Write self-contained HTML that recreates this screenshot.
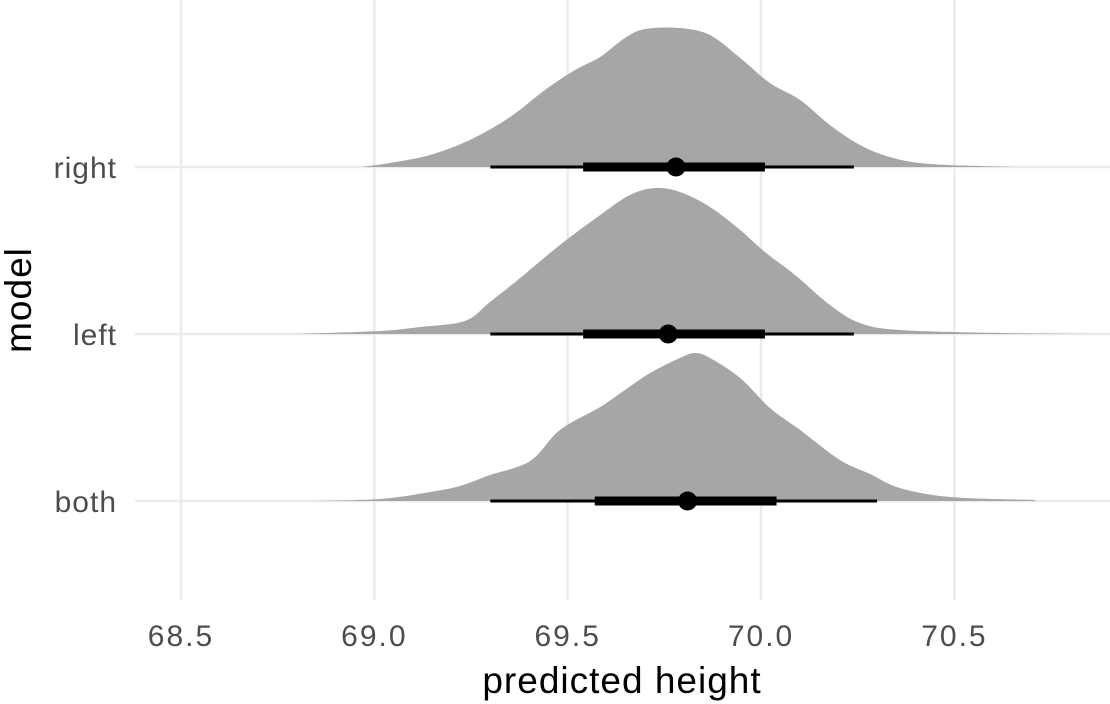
<!DOCTYPE html>
<html><head><meta charset="utf-8"><style>
html,body{margin:0;padding:0;background:#fff;}
svg{display:block;font-family:"Liberation Sans",sans-serif;}
</style></head><body>
<svg id="chart" width="1110" height="704">
<g id="grid"></g>
<g id="marks"></g>
<g id="axes"></g>
<text x="622" y="693" font-size="37" letter-spacing="1" text-anchor="middle" fill="#000">predicted height</text>
<text transform="translate(31,300) rotate(-90)" font-size="37" letter-spacing="1" text-anchor="middle" fill="#000">model</text>
</svg>
<script>
const categories = ["both","left","right"];
const xTicks = [68.5,69.0,69.5,70.0,70.5];
const xTickLabels = ["68.5","69.0","69.5","70.0","70.5"];
const rightX = [68.968,69.04,69.144,69.247,69.351,69.441,69.519,69.584,69.648,69.70,69.790,69.868,69.946,70.023,70.101,70.178,70.256,70.333,70.437,70.657];
const rightD = [0,4,12,27,50,77,97,110,129,138,139,132,109,84,67,42,22,10,3,0];
const leftX = [68.795,69.015,69.118,69.234,69.299,69.377,69.480,69.584,69.661,69.726,69.790,69.868,69.946,70.010,70.088,70.178,70.256,70.359,70.618,70.851];
const leftD = [0,3,7,13,32,56,89,119,139,146,142,127,104,82,59,29,11,4,1,0];
const bothX = [68.834,69.015,69.144,69.221,69.299,69.403,69.480,69.584,69.648,69.713,69.790,69.829,69.868,69.946,70.023,70.101,70.204,70.282,70.359,70.489,70.708];
const bothD = [0,2,9,15,26,40,71,94,111,128,143,148,143,123,93,71,41,27,13,4,1];
const pointEst = [69.81,69.76,69.78];
const thickLo = [69.57,69.54,69.54];
const thickHi = [70.04,70.01,70.01];
const thinLo = [69.30,69.30,69.30];
const thinHi = [70.30,70.24,70.24];

const NS="http://www.w3.org/2000/svg";
const xs = v => 181 + (v-68.5)*386.7;
const ys = i => 501 - i*167;
const ds = d => d*1.0;
function mk(tag, attrs, parent){const e=document.createElementNS(NS,tag);for(const k in attrs)e.setAttribute(k,attrs[k]);parent.appendChild(e);return e;}
const grid=document.getElementById('grid'), marks=document.getElementById('marks'), axes=document.getElementById('axes');
xTicks.forEach((t,i)=>{
  const l=mk('line',{x1:xs(t),x2:xs(t),y1:0,y2:600,stroke:'#ebebeb','stroke-width':2.5},grid);
  
  
  const tx=mk('text',{x:xs(t),y:646,'font-size':30,'letter-spacing':2,'text-anchor':'middle',fill:'#4d4d4d'},axes);
  tx.textContent=xTickLabels[i];
  
  
});
categories.forEach((c,i)=>{
  const l=mk('line',{x1:135,x2:1110,y1:ys(i),y2:ys(i),stroke:'#ebebeb','stroke-width':2.5},grid);
  
  
  const tx=mk('text',{x:117,y:ys(i)+11,'font-size':30,'letter-spacing':1,'text-anchor':'end',fill:'#4d4d4d'},axes);
  tx.textContent=c;
  
  
});
const dens=[[bothX,bothD],[leftX,leftD],[rightX,rightD]];
dens.forEach((p,i)=>{
  const X=p[0],D=p[1],b=ys(i);
  const pts=X.map((x,j)=>[xs(x),b-ds(D[j])]);
  let d=`M${pts[0][0]},${b} L${pts[0][0]},${pts[0][1]}`;
  for(let j=0;j<pts.length-1;j++){
    const p0=pts[Math.max(j-1,0)],p1=pts[j],p2=pts[j+1],p3=pts[Math.min(j+2,pts.length-1)];
    const c1=[p1[0]+(p2[0]-p0[0])/6,p1[1]+(p2[1]-p0[1])/6],c2=[p2[0]-(p3[0]-p1[0])/6,p2[1]-(p3[1]-p1[1])/6];
    d+=` C${c1[0]},${c1[1]} ${c2[0]},${c2[1]} ${p2[0]},${p2[1]}`;
  }
  d+=` L${pts[pts.length-1][0]},${b} Z`;
  const e=mk('path',{d:d,fill:'#a6a6a6'},marks);
  
  
});
categories.forEach((c,i)=>{
  const y=ys(i);
  const a=mk('line',{x1:xs(thinLo[i]),x2:xs(thinHi[i]),y1:y,y2:y,stroke:'#000','stroke-width':3},marks);
  
  
  const b=mk('line',{x1:xs(thickLo[i]),x2:xs(thickHi[i]),y1:y,y2:y,stroke:'#000','stroke-width':9},marks);
  
  
  const p=mk('circle',{cx:xs(pointEst[i]),cy:y,r:9.5,fill:'#000'},marks);
  
  
});
</script>
</body></html>
